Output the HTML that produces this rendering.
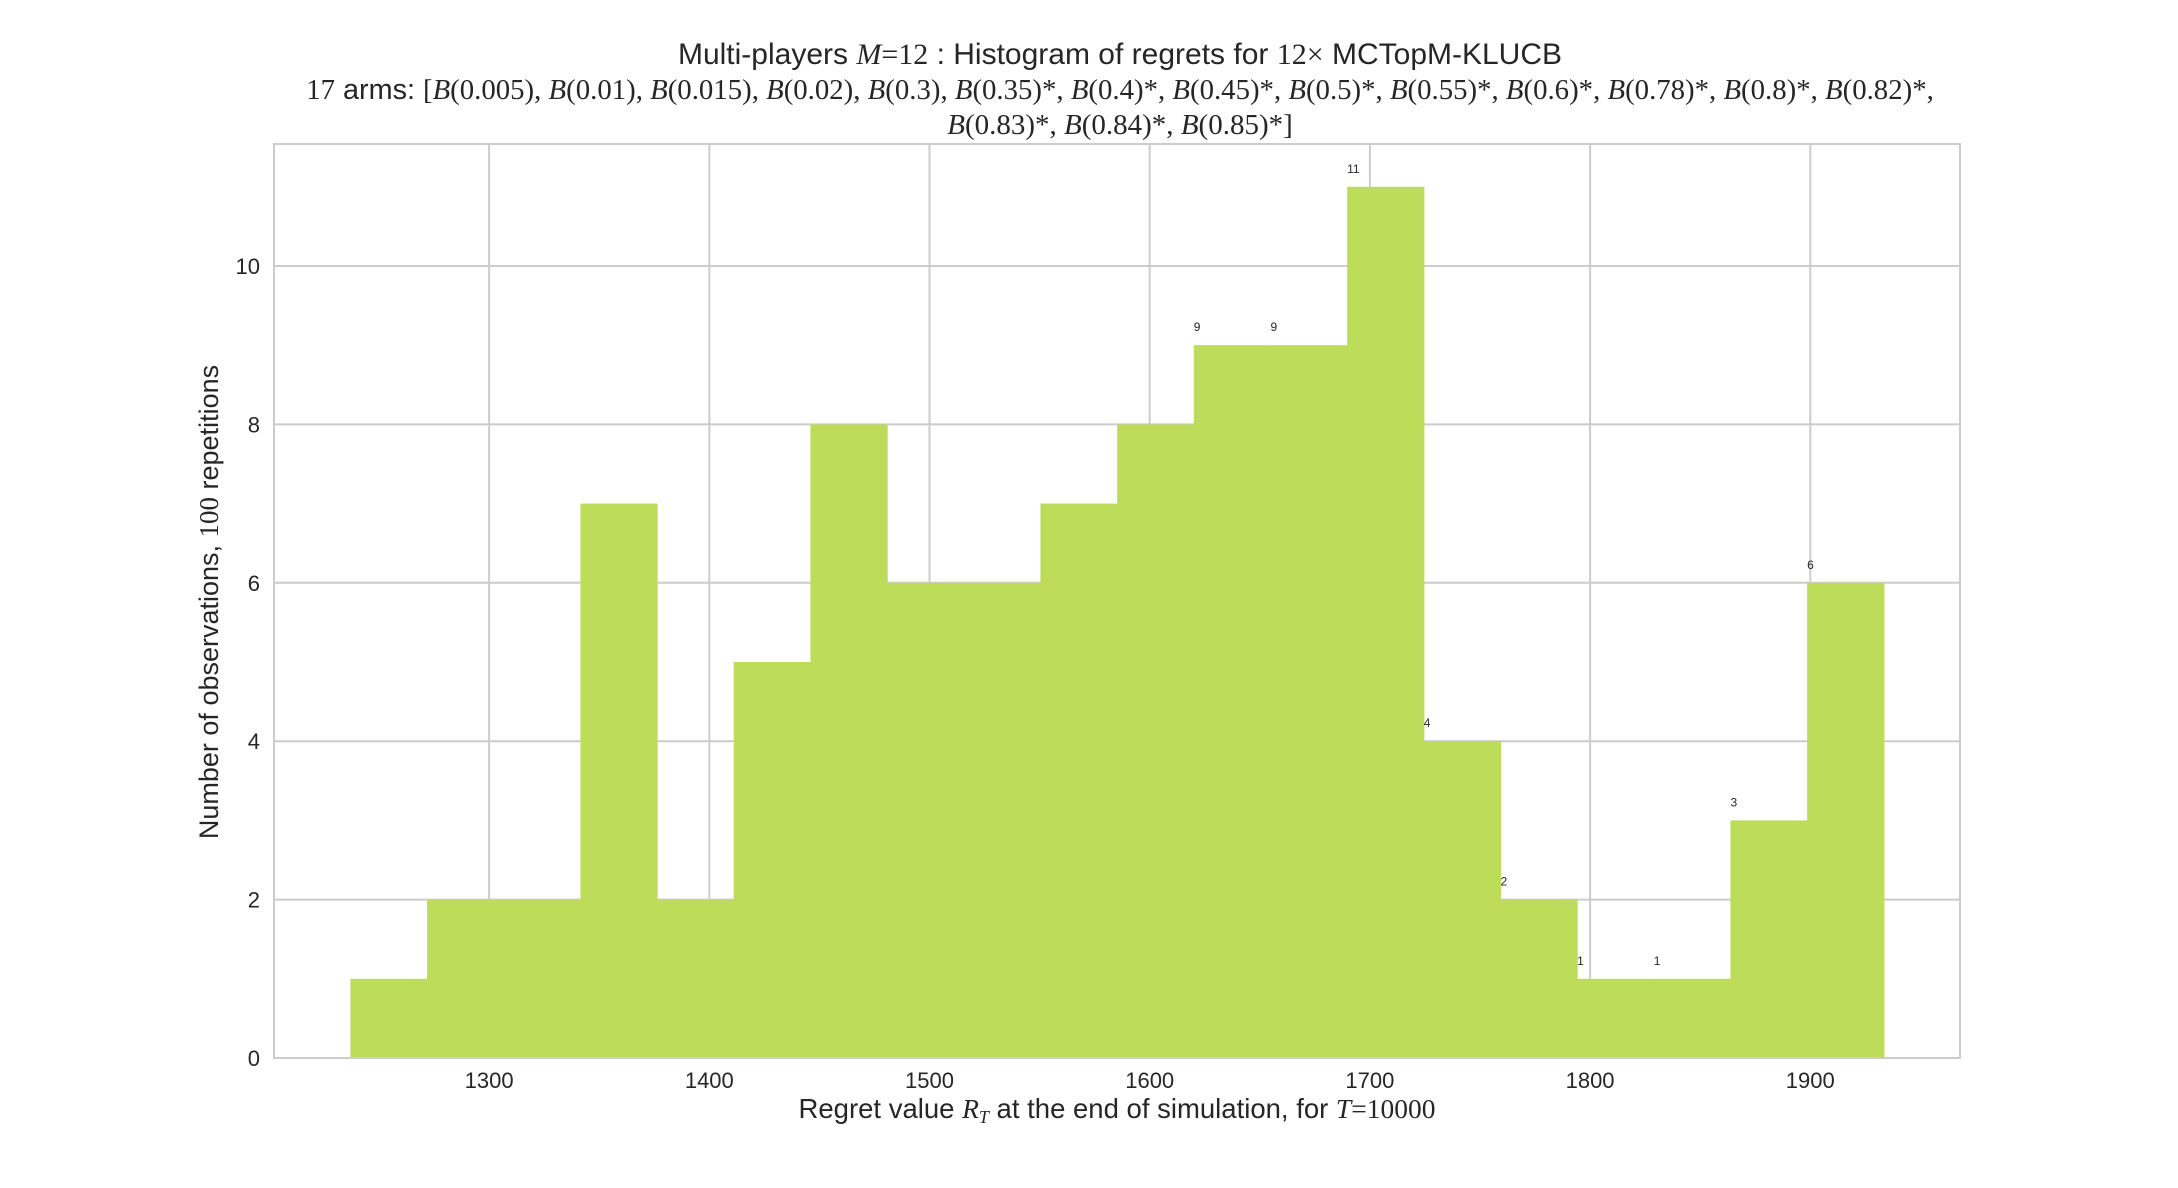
<!DOCTYPE html>
<html><head><meta charset="utf-8"><style>
body{margin:0;background:#fff}
svg{display:block;font-family:"Liberation Sans","DejaVu Sans",sans-serif;color:#262626}
.m{font-family:"Liberation Serif","DejaVu Serif",serif;font-style:italic}
.r{font-family:"Liberation Serif","DejaVu Serif",serif}
</style></head><body>
<svg id="chart" width="2178" height="1188" viewBox="0 0 2178 1188" xmlns="http://www.w3.org/2000/svg">
<g font-size="30" fill="#262626" text-anchor="middle">
<text x="1120" y="64">Multi-players <tspan class="m">M</tspan><tspan class="r">=12</tspan> : Histogram of regrets for <tspan class="r">12×</tspan> MCTopM-KLUCB</text>
<text x="1120" y="99" font-size="28.8"><tspan class="r">17</tspan> arms: <tspan class="r">[</tspan><tspan class="m">B</tspan><tspan class="r">(0.005), </tspan><tspan class="m">B</tspan><tspan class="r">(0.01), </tspan><tspan class="m">B</tspan><tspan class="r">(0.015), </tspan><tspan class="m">B</tspan><tspan class="r">(0.02), </tspan><tspan class="m">B</tspan><tspan class="r">(0.3), </tspan><tspan class="m">B</tspan><tspan class="r">(0.35)*, </tspan><tspan class="m">B</tspan><tspan class="r">(0.4)*, </tspan><tspan class="m">B</tspan><tspan class="r">(0.45)*, </tspan><tspan class="m">B</tspan><tspan class="r">(0.5)*, </tspan><tspan class="m">B</tspan><tspan class="r">(0.55)*, </tspan><tspan class="m">B</tspan><tspan class="r">(0.6)*, </tspan><tspan class="m">B</tspan><tspan class="r">(0.78)*, </tspan><tspan class="m">B</tspan><tspan class="r">(0.8)*, </tspan><tspan class="m">B</tspan><tspan class="r">(0.82)*,</tspan></text>
<text x="1120" y="134" font-size="29"><tspan class="m">B</tspan><tspan class="r">(0.83)*, </tspan><tspan class="m">B</tspan><tspan class="r">(0.84)*, </tspan><tspan class="m">B</tspan><tspan class="r">(0.85)*]</tspan></text>
</g>
<g id="grid"></g>
<g id="bars"></g>
<g id="labels"></g>
<rect x="274" y="144" width="1686" height="914" fill="none" stroke="#cccccc" stroke-width="2"/>
<g id="xticks"></g>
<g id="yticks"></g>
<text x="1117" y="1118" font-size="27.5" fill="#262626" text-anchor="middle">Regret value <tspan class="m">R</tspan><tspan class="m" font-size="18" dy="5">T</tspan><tspan dy="-5"> at the end of simulation, for </tspan><tspan class="m">T</tspan><tspan class="r">=10000</tspan></text>
<text transform="translate(218,602) rotate(-90)" font-size="27" fill="#262626" text-anchor="middle">Number of observations, <tspan class="r">100</tspan> repetitions</text>
</svg>
<script>
const binStart = 1237;
const binWidth = 34.82;
const counts = [1,2,2,7,2,5,8,6,6,7,8,9,9,11,4,2,1,1,3,6];
const labelFrom = 11;
const xTickValues = [1300,1400,1500,1600,1700,1800,1900];
const yTickValues = [0,2,4,6,8,10];

const L=274,R=1960,T=144,B=1058,xmin=1202.3,xmax=1968,ymax=11.54;
const NS='http://www.w3.org/2000/svg';
const X=v=>L+(v-xmin)/(xmax-xmin)*(R-L);
const Y=v=>B-v/ymax*(B-T);
function mk(tag,attrs,parent){const e=document.createElementNS(NS,tag);for(const k in attrs)e.setAttribute(k,attrs[k]);parent.appendChild(e);return e;}
const grid=document.getElementById('grid'),bars=document.getElementById('bars'),labels=document.getElementById('labels'),xt=document.getElementById('xticks'),yt=document.getElementById('yticks');
xTickValues.forEach(v=>{
  const l=mk('line',{x1:X(v),x2:X(v),y1:T,y2:B,stroke:'#cccccc','stroke-width':2},grid);
  
  
  const t=mk('text',{x:X(v),y:1088,'font-size':22,fill:'#262626','text-anchor':'middle'},xt);
  t.textContent=v;
  
  
});
yTickValues.forEach(v=>{
  const l=mk('line',{x1:L,x2:R,y1:Y(v),y2:Y(v),stroke:'#cccccc','stroke-width':2},grid);
  
  
  const t=mk('text',{x:260,y:Y(v)+8,'font-size':22,fill:'#262626','text-anchor':'end'},yt);
  t.textContent=v;
  
  
});
counts.forEach((c,i)=>{
  const x0=X(binStart+i*binWidth),x1=X(binStart+(i+1)*binWidth);
  const r=mk('rect',{x:x0,y:Y(c),width:x1-x0+0.6,height:B-Y(c),fill:'#bcdc5a'},bars);
  
  
  if(i>=labelFrom){
    const t=mk('text',{x:x0,y:Y(c)-14,'font-size':12,fill:'#262626'},labels);
    t.textContent=c;
    
    
  }
});
</script>
</body></html>
